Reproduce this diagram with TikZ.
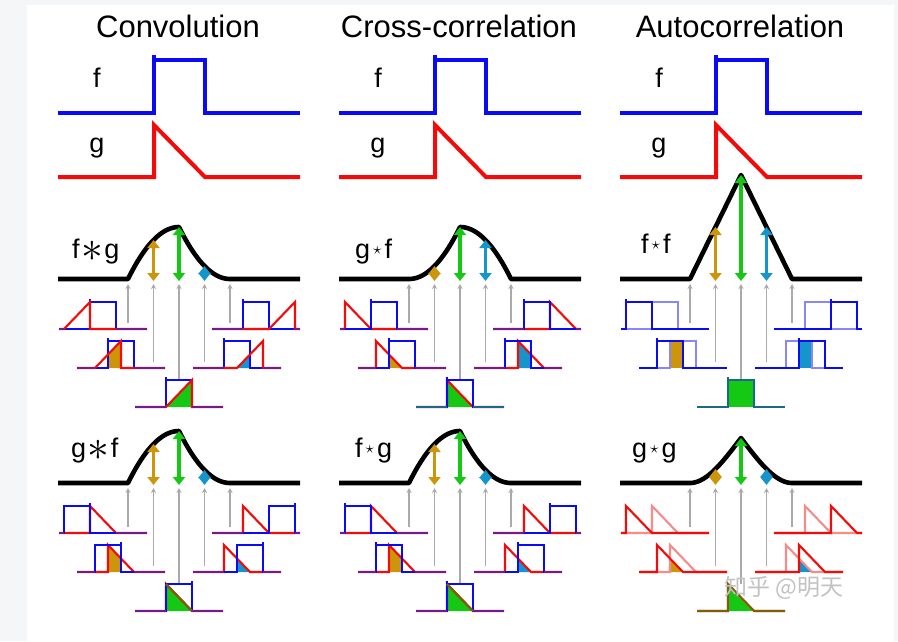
\documentclass[tikz,border=0pt]{standalone}
\usepackage{fontspec}
\setmainfont{Liberation Sans}
\newfontfamily\cjkfont{Noto Sans CJK SC}
\usetikzlibrary{arrows.meta}

\definecolor{fblue}{RGB}{10,10,245}
\definecolor{gred}{RGB}{245,10,10}
\definecolor{mixpurple}{RGB}{110,30,140}
\definecolor{mixteal}{RGB}{25,105,135}
\definecolor{mixolive}{RGB}{125,95,10}
\definecolor{cgold}{RGB}{205,150,10}
\definecolor{cgreen}{RGB}{20,200,20}
\definecolor{ccyan}{RGB}{20,150,205}
\definecolor{lblue}{RGB}{135,135,250}
\definecolor{lred}{RGB}{245,140,140}
\definecolor{arrgray}{RGB}{170,170,170}
\definecolor{bggray}{RGB}{245,246,248}

\tikzset{
 mainline/.style={line width=4pt, line join=miter},
 resline/.style={line width=4.6pt, line join=round},
 miniline/.style={line width=2.1pt, line join=miter},
 probe/.style={draw=arrgray, line width=1.2pt, -{Stealth[length=5pt,width=5pt]}},
 valarrow/.style={line width=3.5pt, {Triangle[length=8pt,width=12pt]}-{Triangle[length=8pt,width=12pt]}},
 title/.style={font=\fontsize{31}{36}\selectfont, anchor=base, inner sep=0pt},
 fnlabel/.style={font=\fontsize{27}{32}\selectfont, anchor=base, inner sep=0pt},
}

\newcommand{\ConvAst}{\hspace{1.5pt}\raisebox{-3.5pt}{\scalebox{1.75}{$\ast$}}\hspace{1.5pt}}
\newcommand{\CorrStar}{\hspace{3pt}\raisebox{3.5pt}{\fontsize{19}{19}\selectfont$\star$}\hspace{3pt}}

% result curves, local coordinates (row 2 of column 1)
\newcommand{\CurveF}{\draw[resline] (58,279) -- (128,279)
 -- plot[domain=0:1,samples=25] ({128+51*\x},{279-104*(\x-\x*\x/2)})
 -- plot[domain=1:2,samples=25] ({128+51*\x},{279-52*(2-\x)*(2-\x)}) -- (300,279);}
\newcommand{\CurveG}{\draw[resline] (58,279) -- (128,279)
 -- plot[domain=0:1,samples=25] ({128+51*\x},{279-52*\x*\x})
 -- plot[domain=1:2,samples=25] ({128+51*\x},{279-104*((2-\x)-(2-\x)*(2-\x)/2)}) -- (300,279);}
\newcommand{\CurveT}{\draw[resline] (58,279) -- (128,279) -- (179,175) -- (230,279) -- (300,279);}
\newcommand{\CurveH}{\draw[resline] (58,279) -- (128,279)
 -- plot[domain=0:1,samples=25] ({128+51*\x},{279-135*(1/3-(1-\x)/2+(1-\x)^3/6)})
 -- plot[domain=1:2,samples=25] ({128+51*\x},{279-135*(1/3-(\x-1)/2+(\x-1)^3/6)}) -- (300,279);}

\newcommand{\Probes}{%
 \draw[probe] (128,323) -- (128,284);
 \draw[probe] (153.5,362) -- (153.5,284);
 \draw[probe] (179,380) -- (179,284);
 \draw[probe] (204.5,362) -- (204.5,284);
 \draw[probe] (230,323) -- (230,284);}

\newcommand{\ValArrows}[3]{%
 \draw[valarrow,cgold] (153.5,#1) -- (153.5,281);
 \draw[valarrow,cgreen] (179,#2) -- (179,281);
 \draw[valarrow,ccyan] (204.5,#3) -- (204.5,281);}

% mini plots: #1 R, #2 Y, #3 shift s, #4 fill path, #5 fill option, #6 colour
\newcommand{\MiniCVtwo}[6]{%
 \begin{scope}[shift={(#1,#2)}]
 \pgfmathsetmacro\MnA{26*(#3)}%
 \pgfmathsetmacro\MnLo{min(0,\MnA)}%
 \pgfmathsetmacro\MnHi{max(26,\MnA+26)}%
 \path[#5] #4;
 \draw[miniline,fblue] (-31,0)--(0,0)--(0,-27)--(26,-27)--(26,0)--(57,0) (0,-27)--(0,-30);
 \draw[miniline,gred] (-31,0)--(\MnA,0)--({\MnA+26},-27)--({\MnA+26},0)--(57,0);
 \draw[miniline,#6] (-31,0)--(\MnLo,0) (\MnHi,0)--(57,0);
 \end{scope}}
\newcommand{\MiniCCtwo}[6]{%
 \begin{scope}[shift={(#1,#2)}]
 \pgfmathsetmacro\MnA{26*(#3)}%
 \pgfmathsetmacro\MnLo{min(0,\MnA)}%
 \pgfmathsetmacro\MnHi{max(26,\MnA+26)}%
 \path[#5] #4;
 \draw[miniline,gred] (-31,0)--(\MnA,0)--(\MnA,-27)--({\MnA+26},0)--(57,0);
 \draw[miniline,fblue] (-31,0)--(0,0)--(0,-27)--(26,-27)--(26,0)--(57,0) (0,-27)--(0,-30);
 \draw[miniline,#6] (-31,0)--(\MnLo,0) (\MnHi,0)--(57,0);
 \end{scope}}
\newcommand{\MiniACtwo}[6]{%
 \begin{scope}[shift={(#1,#2)}]
 \pgfmathsetmacro\MnA{26*(#3)}%
 \path[#5] #4;
 \draw[miniline,lblue] (-31,0)--(0,0)--(0,-27)--(26,-27)--(26,0)--(57,0);
 \draw[miniline,#6] (-31,0)--(\MnA,0)--(\MnA,-27)--({\MnA+26},-27)--({\MnA+26},0)--(57,0) (\MnA,-27)--(\MnA,-30);
 \end{scope}}
\newcommand{\MiniACthree}[6]{%
 \begin{scope}[shift={(#1,#2)}]
 \pgfmathsetmacro\MnA{26*(#3)}%
 \path[#5] #4;
 \draw[miniline,lred] (-31,0)--(0,0)--(0,-27)--(26,0)--(57,0);
 \draw[miniline,#6] (-31,0)--(\MnA,0)--(\MnA,-27)--({\MnA+26},0)--(57,0);
 \end{scope}}
\newcommand{\MiniCVthree}[7]{%
 \begin{scope}[shift={(#1,#2)}]
 \pgfmathsetmacro\MnA{26*(#3)}%
 \pgfmathsetmacro\MnLo{min(0,\MnA)}%
 \pgfmathsetmacro\MnHi{max(26,\MnA+26)}%
 \path[#5] #4;
 \draw[miniline,gred] (-31,0)--(0,0)--(0,-27)--(26,0)--(57,0);
 \draw[miniline,fblue] (-31,0)--(\MnA,0)--(\MnA,-27)--({\MnA+26},-27)--({\MnA+26},0)--(57,0) ({\MnA+#7},-27)--({\MnA+#7},-30);
 \draw[miniline,#6] (-31,0)--(\MnLo,0) (\MnHi,0)--(57,0);
 \end{scope}}

% the row-3 set used twice (g*f and f*g)
\newcommand{\RowThreeMinis}[1]{%
 \MiniCVthree{90}{329}{-1}{(0,0)}{fill=none}{mixpurple}{#1}
 \MiniCVthree{108}{368}{-0.5}{(0,0)--(0,-27)--(13,-13.5)--(13,0)--cycle}{fill=cgold}{mixpurple}{#1}
 \MiniCVthree{166}{407}{0}{(0,0)--(0,-27)--(26,0)--cycle}{fill=cgreen}{mixpurple}{#1}
 \draw[miniline,mixolive] (166,380)--(192,407);
 \MiniCVthree{224}{368}{0.5}{(13,0)--(13,-13.5)--(26,0)--cycle}{fill=ccyan}{mixpurple}{#1}
 \MiniCVthree{243}{329}{1}{(0,0)}{fill=none}{mixpurple}{#1}}

\begin{document}
\begin{tikzpicture}[x=1pt,y=-1pt]
\useasboundingbox (0,0) rectangle (898,641);
\fill[bggray] (0,0) rectangle (898,641);
\fill[white] (27,5) rectangle (894,641);

% titles
\node[title] (t1) at (178,37) {Convolution};
\node[title] (t2) at (459,37) {Cross-correlation};
\node[title] (t3) at (740,37) {Autocorrelation};

% top f and g plots
\foreach \X/\n in {0/1,281/2,562/3}{
 \begin{scope}[shift={(\X,0)}]
 \draw[mainline,fblue] (58,113)--(154,113)--(154,60)--(205,60)--(205,113)--(300,113) (154,60)--(154,55);
 \draw[mainline,gred] (58,177)--(154,177)--(154,125)--(205,177)--(300,177);
 \node[fnlabel] (f\n) at (97,87) {f};
 \node[fnlabel] (g\n) at (97,152) {g};
 \end{scope}}

% ---------- row 2 ----------
% column 1: f*g
\begin{scope}
 \CurveF
 \Probes
 \MiniCVtwo{90}{329}{-1}{(0,0)}{fill=none}{mixpurple}
 \MiniCVtwo{108}{368}{-0.5}{(0,0)--(0,-13.5)--(13,-27)--(13,0)--cycle}{fill=cgold}{mixpurple}
 \MiniCVtwo{166}{407}{0}{(0,0)--(26,-27)--(26,0)--cycle}{fill=cgreen}{mixpurple}
 \MiniCVtwo{224}{368}{0.5}{(13,0)--(26,-13.5)--(26,0)--cycle}{fill=ccyan}{mixpurple}
 \MiniCVtwo{243}{329}{1}{(0,0)}{fill=none}{mixpurple}
 \ValArrows{240}{227}{266}
 \node[fnlabel,anchor=base west] (l21) at (72,258) {f\ConvAst g};
\end{scope}
% column 2: g star f
\begin{scope}[shift={(281,0)}]
 \CurveG
 \Probes
 \MiniCCtwo{90}{329}{-1}{(0,0)}{fill=none}{mixpurple}
 \MiniCCtwo{108}{368}{-0.5}{(0,0)--(0,-13.5)--(13,0)--cycle}{fill=cgold}{mixpurple}
 \MiniCCtwo{166}{407}{0}{(0,0)--(0,-27)--(26,0)--cycle}{fill=cgreen}{mixteal}
 \MiniCCtwo{224}{368}{0.5}{(13,0)--(13,-27)--(26,-13.5)--(26,0)--cycle}{fill=ccyan}{mixpurple}
 \MiniCCtwo{243}{329}{1}{(0,0)}{fill=none}{mixpurple}
 \ValArrows{266}{227}{240}
 \node[fnlabel,anchor=base west] (l22) at (74,258) {g\CorrStar f};
\end{scope}
% column 3: f star f
\begin{scope}[shift={(562,0)}]
 \CurveT
 \Probes
 \MiniACtwo{90}{329}{-1}{(0,0)}{fill=none}{fblue}
 \MiniACtwo{108}{368}{-0.5}{(0,0) rectangle (13,-27)}{fill=cgold}{fblue}
 \MiniACtwo{166}{407}{0}{(0,0) rectangle (26,-27)}{fill=cgreen}{mixteal}
 \MiniACtwo{224}{368}{0.5}{(13,0) rectangle (26,-27)}{fill=ccyan}{fblue}
 \MiniACtwo{243}{329}{1}{(0,0)}{fill=none}{fblue}
 \ValArrows{227}{175}{227}
 \node[fnlabel,anchor=base west] (l23) at (79,253) {f\CorrStar f};
\end{scope}

% ---------- row 3 ----------
\begin{scope}[shift={(0,204)}]
 \CurveF
 \Probes
 \RowThreeMinis{26}
 \ValArrows{240}{227}{266}
 \node[fnlabel,anchor=base west] (l31) at (71,253) {g\ConvAst f};
\end{scope}
\begin{scope}[shift={(281,204)}]
 \CurveF
 \Probes
 \RowThreeMinis{0}
 \ValArrows{240}{227}{266}
 \node[fnlabel,anchor=base west] (l32) at (74,253) {f\CorrStar g};
\end{scope}
\begin{scope}[shift={(562,204)}]
 \CurveH
 \Probes
 \MiniACthree{90}{329}{-1}{(0,0)}{fill=none}{gred}
 \MiniACthree{108}{368}{-0.5}{(0,0)--(0,-13.5)--(13,0)--cycle}{fill=cgold}{gred}
 \MiniACthree{166}{407}{0}{(0,0)--(0,-27)--(26,0)--cycle}{fill=cgreen}{mixolive}
 \MiniACthree{224}{368}{0.5}{(13,0)--(13,-13.5)--(26,0)--cycle}{fill=ccyan}{gred}
 \MiniACthree{243}{329}{1}{(0,0)}{fill=none}{gred}
 \ValArrows{265}{234}{265}
 \node[fnlabel,anchor=base west] (l33) at (70,253) {g\CorrStar g};
\end{scope}

% watermark
\node[font=\cjkfont\fontsize{23}{23}\selectfont, text=black!24, inner sep=0pt] (wm) at (784,588) {知乎 @明天};
\end{tikzpicture}
\end{document}
